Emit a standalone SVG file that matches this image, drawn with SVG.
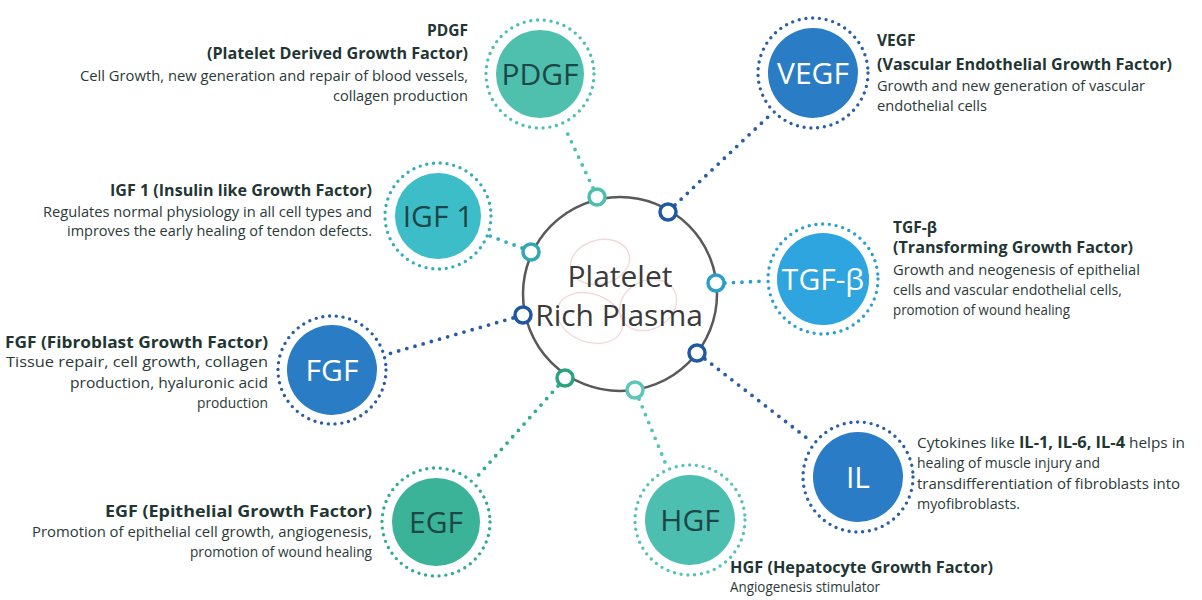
<svg xmlns="http://www.w3.org/2000/svg" width="1202" height="600" viewBox="0 0 1202 600">
  <style>
    .hub { fill: #ffffff; stroke: #595959; stroke-width: 2.5; }
    .hubtxt { font-family: "Open Sans", "Liberation Sans", sans-serif; font-size: 30px; fill: #3a3a3a; text-anchor: middle; }
    .ring { fill: none; stroke-width: 3.4; stroke-linecap: round; stroke-dasharray: 0 6.8; }
    .link { fill: none; stroke-width: 3.8; stroke-linecap: round; stroke-dasharray: 0 8.5; }
    .port { fill: #ffffff; stroke-width: 3.5; }
    .lbl { font-family: "Open Sans", "Liberation Sans", sans-serif; font-size: 30px; text-anchor: middle; }
    .dark { fill: #1d4646; }
    .light { fill: #ffffff; }
    .ttl { font-family: "Open Sans", "Liberation Sans", sans-serif; font-size: 15.5px; font-weight: 700; fill: #1f3634; }
    .txt { font-family: "Open Sans", "Liberation Sans", sans-serif; font-size: 14.5px; fill: #2a3a38; }
    .r { text-anchor: end; }
    .mark { fill: none; stroke: #f2dada; stroke-width: 1.4; }
  </style>

  <rect width="1202" height="600" fill="#ffffff"/>

  <!-- connectors from the hub ports to each growth factor -->
  <g id="connectors">
    <line class="link" stroke="#4cbfad" x1="593" y1="188" x2="565" y2="128"/>
    <line class="link" stroke="#2a5fa6" x1="675" y1="205" x2="770" y2="115"/>
    <line class="link" stroke="#33aeb8" x1="522" y1="248" x2="490" y2="236"/>
    <line class="link" stroke="#2b9fce" x1="725" y1="283" x2="766" y2="281"/>
    <line class="link" stroke="#2a5ca4" x1="513" y1="318" x2="388" y2="354"/>
    <line class="link" stroke="#2a5fa6" x1="705" y1="359" x2="812" y2="442"/>
    <line class="link" stroke="#2fad8a" x1="558" y1="386" x2="475" y2="479"/>
    <line class="link" stroke="#55c3b6" x1="639" y1="399" x2="667" y2="467"/>
  </g>

  <!-- central hub -->
  <g id="hub">
    <circle class="hub" cx="620" cy="294" r="97"/>
    <ellipse class="mark" cx="600" cy="262" rx="30" ry="22" transform="rotate(-15 600 262)"/>
    <ellipse class="mark" cx="590" cy="318" rx="34" ry="24" transform="rotate(20 590 318)"/>
    <ellipse class="mark" cx="648" cy="305" rx="30" ry="24" transform="rotate(-30 648 305)"/>
    <text class="hubtxt" x="620" y="287">Platelet</text>
    <text class="hubtxt" x="619" y="326">Rich Plasma</text>
    <circle class="port" stroke="#4cbfad" cx="597" cy="197" r="8"/>
    <circle class="port" stroke="#1f5aa0" cx="668" cy="212" r="8"/>
    <circle class="port" stroke="#2fa9b2" cx="531" cy="252" r="8"/>
    <circle class="port" stroke="#2b9fc8" cx="716" cy="283" r="8"/>
    <circle class="port" stroke="#1f58a0" cx="523" cy="315" r="8"/>
    <circle class="port" stroke="#1f5aa0" cx="697" cy="353" r="8"/>
    <circle class="port" stroke="#2aa47f" cx="565" cy="378" r="8"/>
    <circle class="port" stroke="#5cc6b8" cx="635" cy="390" r="8"/>
  </g>

  <!-- PDGF -->
  <g id="pdgf">
    <circle class="ring" stroke="#4cbfad" cx="540" cy="74" r="54"/>
    <circle fill="#4fc0ae" cx="540" cy="74" r="44"/>
    <text class="lbl dark" x="540" y="85">PDGF</text>
    <text class="ttl r" x="468" y="36">PDGF</text>
    <text class="ttl r" x="468" y="59" textLength="261" lengthAdjust="spacingAndGlyphs">(Platelet Derived Growth  Factor)</text>
    <text class="txt r" x="468" y="81" textLength="388" lengthAdjust="spacingAndGlyphs">Cell Growth, new generation and repair of blood vessels,</text>
    <text class="txt r" x="468" y="101" textLength="135" lengthAdjust="spacingAndGlyphs">collagen production</text>
  </g>

  <!-- VEGF -->
  <g id="vegf">
    <circle class="ring" stroke="#2a5fa6" cx="813" cy="73" r="55"/>
    <circle fill="#2a7cc4" cx="813" cy="73" r="45"/>
    <text class="lbl light" x="813" y="84">VEGF</text>
    <text class="ttl" x="877" y="46">VEGF</text>
    <text class="ttl" x="877" y="70" textLength="295" lengthAdjust="spacingAndGlyphs">(Vascular Endothelial Growth Factor)</text>
    <text class="txt" x="877" y="91" textLength="268" lengthAdjust="spacingAndGlyphs">Growth and new generation of vascular</text>
    <text class="txt" x="877" y="111" textLength="110" lengthAdjust="spacingAndGlyphs">endothelial cells</text>
  </g>

  <!-- IGF 1 -->
  <g id="igf1">
    <circle class="ring" stroke="#33aeb8" cx="438" cy="216" r="53"/>
    <circle fill="#3dbdc8" cx="438" cy="216" r="43"/>
    <text class="lbl dark" x="438" y="227">IGF 1</text>
    <text class="ttl r" x="372" y="196" textLength="262" lengthAdjust="spacingAndGlyphs">IGF 1 (Insulin like Growth Factor)</text>
    <text class="txt r" x="372" y="217" textLength="329" lengthAdjust="spacingAndGlyphs">Regulates normal physiology in all cell types and</text>
    <text class="txt r" x="372" y="236" textLength="305" lengthAdjust="spacingAndGlyphs">improves the early healing of tendon defects.</text>
  </g>

  <!-- TGF-beta -->
  <g id="tgfb">
    <circle class="ring" stroke="#2b9fce" cx="823" cy="279" r="55"/>
    <circle fill="#2ea5de" cx="823" cy="279" r="46"/>
    <text class="lbl light" x="823" y="290">TGF-β</text>
    <text class="ttl" x="893" y="233">TGF-β</text>
    <text class="ttl" x="893" y="253" textLength="240" lengthAdjust="spacingAndGlyphs">(Transforming Growth Factor)</text>
    <text class="txt" x="893" y="275" textLength="247" lengthAdjust="spacingAndGlyphs">Growth and neogenesis of epithelial</text>
    <text class="txt" x="893" y="295" textLength="229" lengthAdjust="spacingAndGlyphs">cells and vascular endothelial cells,</text>
    <text class="txt" x="893" y="315" textLength="177" lengthAdjust="spacingAndGlyphs">promotion of wound healing</text>
  </g>

  <!-- FGF -->
  <g id="fgf">
    <circle class="ring" stroke="#2a5ca4" cx="332" cy="370" r="54"/>
    <circle fill="#2a7cc4" cx="332" cy="370" r="45"/>
    <text class="lbl light" x="332" y="381">FGF</text>
    <text class="ttl r" x="268" y="348" textLength="263" lengthAdjust="spacingAndGlyphs">FGF (Fibroblast Growth Factor)</text>
    <text class="txt r" x="268" y="367" textLength="262" lengthAdjust="spacingAndGlyphs">Tissue repair, cell growth, collagen</text>
    <text class="txt r" x="268" y="388" textLength="198" lengthAdjust="spacingAndGlyphs">production, hyaluronic acid</text>
    <text class="txt r" x="268" y="408" textLength="71" lengthAdjust="spacingAndGlyphs">production</text>
  </g>

  <!-- IL -->
  <g id="il">
    <circle class="ring" stroke="#2a5fa6" cx="858" cy="477" r="55"/>
    <circle fill="#2b7cc6" cx="858" cy="477" r="45"/>
    <text class="lbl light" x="858" y="488">IL</text>
    <text class="txt" x="917" y="448" textLength="268" lengthAdjust="spacingAndGlyphs">Cytokines like <tspan class="ttl" font-size="16.5px">IL-1, IL-6, IL-4</tspan> helps in</text>
    <text class="txt" x="917" y="468" textLength="183" lengthAdjust="spacingAndGlyphs">healing of muscle injury and</text>
    <text class="txt" x="917" y="489" textLength="263" lengthAdjust="spacingAndGlyphs">transdifferentiation of fibroblasts into</text>
    <text class="txt" x="917" y="509" textLength="103" lengthAdjust="spacingAndGlyphs">myofibroblasts.</text>
  </g>

  <!-- EGF -->
  <g id="egf">
    <circle class="ring" stroke="#2fad8a" cx="436" cy="522" r="54"/>
    <circle fill="#3bb398" cx="436" cy="522" r="44"/>
    <text class="lbl dark" x="436" y="533">EGF</text>
    <text class="ttl r" x="372" y="517" textLength="267" lengthAdjust="spacingAndGlyphs">EGF (Epithelial Growth Factor)</text>
    <text class="txt r" x="372" y="537" textLength="340" lengthAdjust="spacingAndGlyphs">Promotion of epithelial cell growth, angiogenesis,</text>
    <text class="txt r" x="372" y="557" textLength="182" lengthAdjust="spacingAndGlyphs">promotion of wound healing</text>
  </g>

  <!-- HGF -->
  <g id="hgf">
    <circle class="ring" stroke="#55c3b6" cx="690" cy="520" r="55"/>
    <circle fill="#4cbfb1" cx="690" cy="520" r="45"/>
    <text class="lbl dark" x="690" y="531">HGF</text>
    <text class="ttl" x="730" y="573" textLength="263" lengthAdjust="spacingAndGlyphs">HGF (Hepatocyte Growth Factor)</text>
    <text class="txt" x="730" y="592" textLength="150" lengthAdjust="spacingAndGlyphs">Angiogenesis stimulator</text>
  </g>
</svg>
